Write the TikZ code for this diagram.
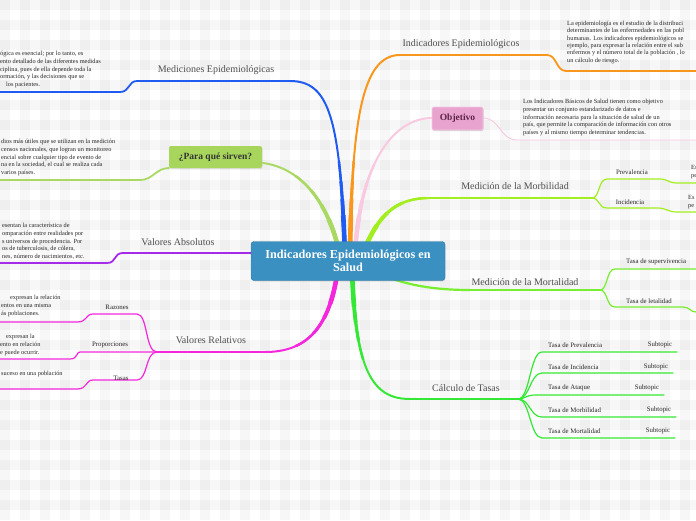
\documentclass[tikz,border=0pt]{standalone}
\usepackage{fontspec}
\setmainfont{Liberation Serif}
\usetikzlibrary{shadows}
\definecolor{cOrange}{HTML}{F9971C}
\definecolor{cBlue}{HTML}{1F5BF0}
\definecolor{cLime}{HTML}{A9D962}
\definecolor{cPurple}{HTML}{A52BE8}
\definecolor{cMagenta}{HTML}{F527DD}
\definecolor{cPink}{HTML}{F9C9E2}
\definecolor{cChart}{HTML}{A2EE1E}
\definecolor{cMort}{HTML}{77EE30}
\definecolor{cCalc}{HTML}{35E835}
\definecolor{cCenter}{HTML}{3A90C1}
\definecolor{cLabel}{HTML}{505050}
\definecolor{cText}{HTML}{262626}
\definecolor{cParaBox}{HTML}{A8D65C}
\definecolor{cObjBox}{HTML}{E9A3CF}
\definecolor{cObjText}{HTML}{5A2447}
\newcommand{\trunkline}[2]{%
  \draw[#1,line width=2pt,line cap=round] #2;
  \begin{scope}\clip (348,261) circle (100pt); \draw[#1,line width=2.5pt] #2; \end{scope}
  \begin{scope}\clip (348,261) circle (80pt); \draw[#1,line width=3.1pt] #2; \end{scope}
  \begin{scope}\clip (348,261) circle (62pt); \draw[#1,line width=3.8pt] #2; \end{scope}
  \begin{scope}\clip (348,261) circle (46pt); \draw[#1,line width=4.6pt] #2; \end{scope}}
\begin{document}
\begin{tikzpicture}[x=1pt,y=-1pt,
  lbl/.style={text=cLabel,font=\fontsize{10}{12}\selectfont,inner sep=0pt},
  small/.style={text=cText,font=\fontsize{6.8}{8}\selectfont,inner sep=0pt},
  desc/.style={text=cText,font=\fontsize{6.3}{7.8}\selectfont,inner sep=0pt,align=left,anchor=north west},
  branch/.style={line width=1.8pt,line cap=round},
  twig/.style={line width=1.2pt,line cap=round},
  hair/.style={line width=0.9pt,line cap=round}]
\useasboundingbox (0,0) rectangle (696,520);
\fill[white] (0,0) rectangle (696,520);
\foreach \i in {0,20,...,680} \fill[black,opacity=0.03] (\i,0) rectangle ++(10,520);
\foreach \j in {0,20,...,500} \fill[black,opacity=0.03] (0,\j) rectangle ++(696,10);

% ---------- coordinates ----------
\coordinate (o0) at (350,255); \coordinate (o1) at (400,55); \coordinate (o2) at (547,55);
\coordinate (o3) at (566,71); \coordinate (o4) at (696,71);
\coordinate (b0) at (345,255); \coordinate (b1) at (290,81); \coordinate (b2) at (137,81);
\coordinate (b3) at (120,92); \coordinate (b4) at (0,92);
\coordinate (p0) at (340,255); \coordinate (p1) at (263,163); \coordinate (p2) at (169,168);
\coordinate (p3) at (140,180); \coordinate (p4) at (0,180);
\coordinate (v0) at (340,256); \coordinate (v1) at (250,253); \coordinate (v2) at (123,253);
\coordinate (v3) at (107,263); \coordinate (v4) at (0,263);
\coordinate (m0) at (338,268); \coordinate (m1) at (265,352); \coordinate (mf) at (157,352);
\coordinate (k0) at (355,255); \coordinate (k1) at (432,118); \coordinate (k2) at (483,118);
\coordinate (k3) at (517,140); \coordinate (k4) at (696,140);
\coordinate (h0) at (362,255); \coordinate (h1) at (430,198); \coordinate (hf) at (592,198);
\coordinate (t0) at (370,270); \coordinate (t1) at (470,290); \coordinate (tf) at (600,290);
\coordinate (q0) at (352,268); \coordinate (q1) at (410,399); \coordinate (qf) at (518,399);

% ---------- trunks ----------
\trunkline{cLime}{(p0) .. controls (328,200) and (300,168) .. (p1)}
\trunkline{cBlue}{(b0) .. controls (340,120) and (330,81) .. (b1)}
\trunkline{cOrange}{(o0) .. controls (352,120) and (362,55) .. (o1)}
\trunkline{cPink}{(k0) .. controls (360,160) and (395,118) .. (k1)}
\trunkline{cChart}{(h0) .. controls (378,215) and (395,198) .. (h1)}
\trunkline{cMagenta}{(m0) .. controls (330,330) and (305,352) .. (m1)}
\trunkline{cCalc}{(q0) .. controls (355,370) and (372,399) .. (q1)}
\draw[cPurple,line width=2.2pt] (v0) .. controls (300,253) .. (v1);
\draw[cMort,line width=2.2pt] (t0) .. controls (400,284) and (430,290) .. (t1);

% ---------- branches ----------
\draw[branch,cOrange] (o1) -- (o2) .. controls (557,55) and (556,71) .. (o3) -- (o4);
\draw[branch,cBlue] (b1) -- (b2) .. controls (128,81) and (130,92) .. (b3) -- (b4);
\draw[branch,cLime] (p2) .. controls (156,168) and (153,180) .. (p3) -- (p4);
\draw[branch,cPurple] (v1) -- (v2) .. controls (113,253) and (117,263) .. (v3) -- (v4);
\draw[branch,cMagenta] (m1) -- (mf);
\draw[hair,cPink] (k2) .. controls (500,118) and (500,140) .. (k3) -- (k4);
\draw[branch,cChart] (h1) -- (hf);
\draw[branch,cMort] (t1) -- (tf);
\draw[branch,cCalc] (q1) -- (qf);

% magenta forks
\coordinate (ra1) at (137,314); \coordinate (ra2) at (93,314); \coordinate (ra3) at (77,322); \coordinate (ra4) at (0,322);
\coordinate (pr1) at (80,352); \coordinate (pr2) at (70,359); \coordinate (pr3) at (0,359);
\coordinate (ta1) at (137,380); \coordinate (ta2) at (93,380); \coordinate (ta3) at (77,389); \coordinate (ta4) at (0,389);
\draw[twig,cMagenta] (mf) .. controls (145,352) and (148,314) .. (ra1) -- (ra2) .. controls (85,314) and (88,322) .. (ra3) -- (ra4);
\draw[twig,cMagenta] (mf) -- (pr1) .. controls (76,352) and (78,359) .. (pr2) -- (pr3);
\draw[twig,cMagenta] (mf) .. controls (145,352) and (148,380) .. (ta1) -- (ta2) .. controls (85,380) and (88,389) .. (ta3) -- (ta4);

% morbilidad forks
\coordinate (mp1) at (607,179); \coordinate (mp2) at (660,179); \coordinate (mp3) at (677,183); \coordinate (mp4) at (696,183);
\coordinate (mi1) at (607,208); \coordinate (mi2) at (658,208); \coordinate (mi3) at (677,212); \coordinate (mi4) at (696,212);
\draw[twig,cChart] (hf) .. controls (600,198) and (598,179) .. (mp1) -- (mp2) .. controls (668,179) and (668,183) .. (mp3) -- (mp4);
\draw[twig,cChart] (hf) .. controls (600,198) and (598,208) .. (mi1) -- (mi2) .. controls (666,208) and (668,212) .. (mi3) -- (mi4);

% mortalidad forks
\coordinate (ms1) at (615,269); \coordinate (ms2) at (696,269);
\coordinate (ml1) at (615,307); \coordinate (ml2) at (683,307); \coordinate (ml3) at (696,312);
\draw[twig,cMort] (tf) .. controls (608,290) and (606,269) .. (ms1) -- (ms2);
\draw[twig,cMort] (tf) .. controls (608,290) and (606,307) .. (ml1) -- (ml2) .. controls (690,307) and (690,312) .. (ml3);

% calculo forks
\coordinate (c1a) at (542,352); \coordinate (c1b) at (677,352);
\coordinate (c2a) at (542,373); \coordinate (c2b) at (673,373);
\coordinate (c3a) at (535,395); \coordinate (c3b) at (664,395);
\coordinate (c4a) at (542,417); \coordinate (c4b) at (676,417);
\coordinate (c5a) at (542,438); \coordinate (c5b) at (675,438);
\draw[twig,cCalc] (qf) .. controls (530,399) and (530,352) .. (c1a) -- (c1b);
\draw[twig,cCalc] (qf) .. controls (530,399) and (530,373) .. (c2a) -- (c2b);
\draw[twig,cCalc] (qf) .. controls (525,399) and (526,395) .. (c3a) -- (c3b);
\draw[twig,cCalc] (qf) .. controls (530,399) and (530,417) .. (c4a) -- (c4b);
\draw[twig,cCalc] (qf) .. controls (530,399) and (530,438) .. (c5a) -- (c5b);

% ---------- boxes ----------
\node[fill=cCenter,draw=cCenter!85!black,line width=0.4pt,rounded corners=3pt,minimum width=194pt,minimum height=39pt,
  text=white,align=center,font=\fontsize{12.2}{13}\selectfont\bfseries,
  drop shadow={opacity=0.2,shadow xshift=0.5pt,shadow yshift=-1pt}] (center) at (348,261)
  {Indicadores Epidemiológicos en\\Salud};
\node[fill=cParaBox,rounded corners=2pt,minimum width=93pt,minimum height=22pt,inner sep=0pt,
  text=black!80,font=\fontsize{9.5}{11}\selectfont\bfseries,
  drop shadow={opacity=0.2,shadow xshift=0.5pt,shadow yshift=-1pt}] (para) at (215.5,157) {¿Para qué sirven?};
\node[fill=cObjBox,draw=cObjBox!60!white,line width=0.6pt,rounded corners=2pt,minimum width=51pt,minimum height=23pt,inner sep=0pt,
  text=cObjText,font=\fontsize{9.5}{11}\selectfont\bfseries,
  drop shadow={opacity=0.3,shadow xshift=0.5pt,shadow yshift=-1.2pt}] (objetivo) at (457.5,118.5) {Objetivo};

% ---------- labels ----------
\node[lbl] (lIE) at (461,44) {Indicadores Epidemiológicos};
\node[lbl] (lME) at (216,70) {Mediciones Epidemiológicas};
\node[lbl] (lVA) at (178,242) {Valores Absolutos};
\node[lbl] (lVR) at (211,340) {Valores Relativos};
\node[lbl] (lMM) at (515,186) {Medición de la Morbilidad};
\node[lbl] (lMo) at (525,282) {Medición de la Mortalidad};
\node[lbl] (lCT) at (466,388) {Cálculo de Tasas};

\node[small] (sPrev) at (632,172) {Prevalencia};
\node[small] (sInc) at (630,202) {Incidencia};
\node[small,anchor=west] (sSup) at (626,262) {Tasa de supervivencia};
\node[small,anchor=west] (sLet) at (626,301) {Tasa de letalidad};
\node[small] (sRaz) at (117,307) {Razones};
\node[small] (sPro) at (110,345) {Proporciones};
\node[small] (sTas) at (121,378) {Tasas};
\node[small,anchor=west] (ct1) at (548,345) {Tasa de Prevalencia};
\node[small,anchor=west] (ct2) at (548,367) {Tasa de Incidencia};
\node[small,anchor=west] (ct3) at (548,388) {Tasa de Ataque};
\node[small,anchor=west] (ct4) at (548,410) {Tasa de Morbilidad};
\node[small,anchor=west] (ct5) at (548,431) {Tasa de Mortalidad};
\node[small] (st1) at (660,345) {Subtopic};
\node[small] (st2) at (656,367) {Subtopic};
\node[small] (st3) at (647,388) {Subtopic};
\node[small] (st4) at (659,410) {Subtopic};
\node[small] (st5) at (658,431) {Subtopic};

% ---------- descriptions ----------
\node[desc,font=\fontsize{6.3}{7.3}\selectfont] (dIE) at (567,21) {La epidemiología es el estudio de la distribuci\\
determinantes de las enfermedades en las pobl\\
humanas. Los indicadores epidemiológicos se\\
ejemplo, para expresar la relación entre el sub\\
enfermos y el número total de la población , lo\\
un cálculo de riesgo.};
\node[desc] (dObj) at (523,99) {Los Indicadores Básicos de Salud tienen como objetivo\\
presentar un conjunto estandarizado de datos e\\
información necesaria para la situación de salud de un\\
país, que permite la comparación de información con otros\\
países y al mismo tiempo determinar tendencias.};
\node[desc] (dME) at (0,51) {ógica es esencial; por lo tanto, es\\
ento detallado de las diferentes medidas\\
ciplina, pues de ella depende toda la\\
ormación, y las decisiones que se\\
\hspace*{6pt}los pacientes.};
\node[desc] (dPara) at (1,139) {dios más útiles que se utilizan en la medición\\
censos nacionales, que logran un monitoreo\\
encial sobre cualquier tipo de evento de\\
na en la sociedad, el cual se realiza cada\\
varios países.};
\node[desc] (dVA) at (2,223) {esentan la característica de\\
omparación entre realidades por\\
s universos de procedencia. Por\\
os de tuberculosis, de cólera,\\
nes, número de nacimientos, etc.};
\node[desc] (dRaz) at (1,295) {\hspace*{9pt}expresan la relación\\
entos en una misma\\
ás poblaciones.};
\node[desc] (dPro) at (0,334) {\hspace*{6pt}expresan la\\
ento en relación\\
e puede ocurrir.};
\node[desc] (dTas) at (1,371) {suceso en una población};
\node[desc] (dPrev) at (691,165) {Es\\pe};
\node[desc] (dInc) at (688,195) {Es\\pe};
\end{tikzpicture}
\end{document}
